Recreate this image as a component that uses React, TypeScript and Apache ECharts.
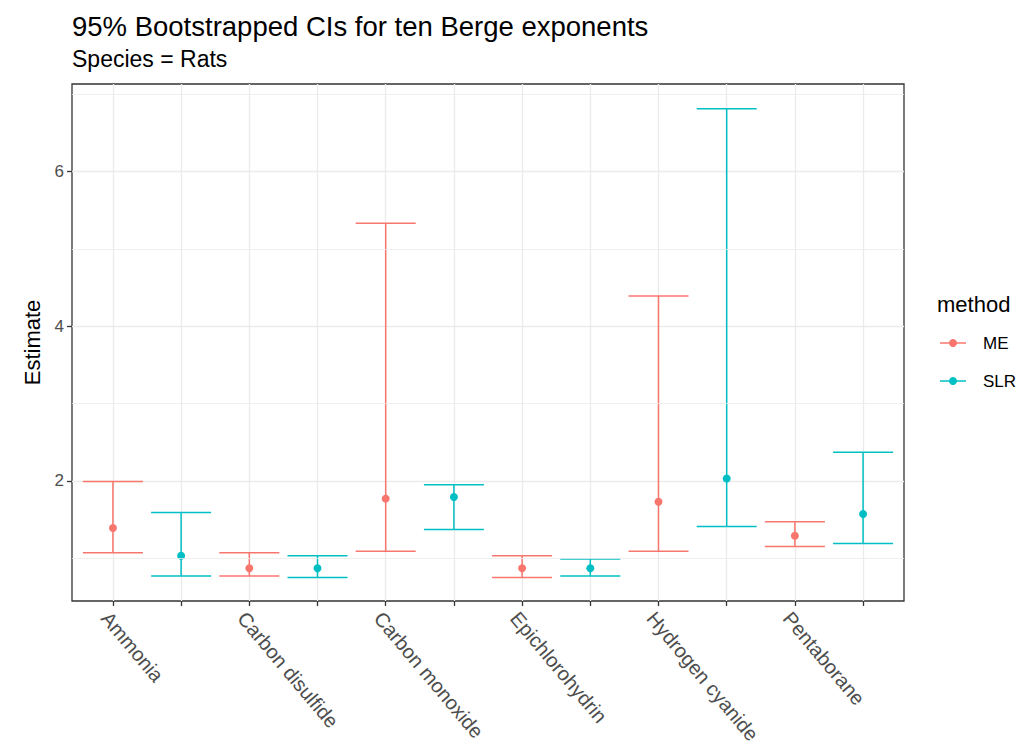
import { useEffect, useRef } from "react";
import * as echarts from "echarts";

// Compounds on the x axis; each has an ME slot and an SLR slot.
const compounds = [
  "Ammonia",
  "Carbon disulfide",
  "Carbon monoxide",
  "Epichlorohydrin",
  "Hydrogen cyanide",
  "Pentaborane",
];
const methods = ["ME", "SLR"];
const methodColors = ["#F8766D", "#00BFC4"];

// Bootstrapped estimates and 95% interval bounds per compound.
const meEstimate = [1.39, 0.87, 1.77, 0.87, 1.73, 1.29];
const meLower = [1.07, 0.77, 1.09, 0.75, 1.09, 1.15];
const meUpper = [1.99, 1.07, 5.33, 1.03, 4.39, 1.47];
const slrEstimate = [1.03, 0.87, 1.79, 0.87, 2.03, 1.57];
const slrLower = [0.77, 0.75, 1.37, 0.77, 1.41, 1.19];
const slrUpper = [1.59, 1.03, 1.95, 0.99, 6.81, 2.37];

const yMajorTicks = [2, 4, 6];
const yMinorGrid = [1, 3, 5, 7];

const FONT = "'Liberation Sans', Arial, sans-serif";
const AXIS_TEXT = "#4D4D4D";
const GRID_LINE = "#EBEBEB";

export default function App() {
  const ref = useRef<HTMLDivElement>(null);

  useEffect(() => {
    if (!ref.current) return;
    const chart = echarts.init(ref.current, undefined, { renderer: "svg" });

    const estimates = [meEstimate, slrEstimate];
    const lowers = [meLower, slrLower];
    const uppers = [meUpper, slrUpper];
    const slotTicks = compounds.flatMap((_, i) => [2 * i, 2 * i + 1]);
    const labelTicks = compounds.map((_, i) => 2 * i);

    const barSeries = methods.map((m, k) => ({
      name: m,
      type: "custom",
      z: 3,
      data: compounds.map((_, i) => [2 * i + k, lowers[k][i], uppers[k][i]]),
      encode: { x: 0, y: [1, 2] },
      renderItem: (_params: any, api: any) => {
        const x = api.value(0);
        const lo = api.coord([x, api.value(1)]);
        const hi = api.coord([x, api.value(2)]);
        const half = api.size([0.88, 0])[0] / 2;
        const style = { stroke: methodColors[k], lineWidth: 1.5, fill: "none" };
        return {
          type: "group",
          children: [
            { type: "line", shape: { x1: lo[0], y1: lo[1], x2: hi[0], y2: hi[1] }, style },
            { type: "line", shape: { x1: lo[0] - half, y1: lo[1], x2: lo[0] + half, y2: lo[1] }, style },
            { type: "line", shape: { x1: hi[0] - half, y1: hi[1], x2: hi[0] + half, y2: hi[1] }, style },
          ],
        };
      },
    }));

    const pointSeries = methods.map((m, k) => ({
      name: m,
      type: "scatter",
      z: 4,
      symbol: "circle",
      symbolSize: 8,
      itemStyle: { color: methodColors[k], opacity: 1 },
      data: compounds.map((_, i) => [2 * i + k, estimates[k][i]]),
    }));

    const minorGrid = {
      type: "line",
      z: 1,
      data: [],
      silent: true,
      markLine: {
        silent: true,
        symbol: "none",
        label: { show: false },
        lineStyle: { color: GRID_LINE, width: 0.8, type: "solid" },
        data: yMinorGrid.map((v) => ({ yAxis: v })),
      },
    };

    // Legend drawn beside the panel: key line with a dot, then label.
    const legendTop = 343;
    const legendStep = 38;
    const legendGraphics: any[] = [
      {
        type: "text",
        left: 937,
        top: 293,
        style: { text: "method", font: `22px ${FONT}`, fill: "#000" },
      },
    ];
    methods.forEach((m, k) => {
      const y = legendTop + k * legendStep;
      legendGraphics.push(
        { type: "line", shape: { x1: 940, y1: y, x2: 966, y2: y }, style: { stroke: methodColors[k], lineWidth: 1.5 } },
        { type: "circle", shape: { cx: 953, cy: y, r: 4 }, style: { fill: methodColors[k] } },
        {
          type: "text",
          x: 983,
          y,
          style: { text: m, font: `17px ${FONT}`, fill: "#000", textVerticalAlign: "middle" },
        }
      );
    });

    chart.setOption({
      animation: false,
      backgroundColor: "#fff",
      title: {
        left: 72,
        top: 12,
        padding: 0,
        itemGap: 7,
        text: "95% Bootstrapped CIs for ten Berge exponents",
        subtext: "Species = Rats",
        textStyle: { fontFamily: FONT, fontSize: 27.5, fontWeight: "normal", color: "#000" },
        subtextStyle: { fontFamily: FONT, fontSize: 23, color: "#000" },
      },
      grid: {
        left: 72,
        right: 117,
        top: 84,
        bottom: 146,
        show: true,
        borderColor: "#333",
        borderWidth: 1.3,
        backgroundColor: "transparent",
      },
      xAxis: {
        type: "value",
        min: -0.6,
        max: 11.6,
        axisLine: { show: false, onZero: false },
        axisTick: { show: true, length: 5, lineStyle: { color: "#333", width: 1.3 }, customValues: slotTicks },
        splitLine: { show: true, lineStyle: { color: GRID_LINE, width: 1.3 } },
        axisLabel: {
          customValues: labelTicks,
          rotate: -50,
          margin: 7,
          align: "left",
          verticalAlign: "top",
          fontFamily: FONT,
          fontSize: 20,
          color: AXIS_TEXT,
          formatter: (v: number) => compounds[Math.round(v / 2)] ?? "",
        },
      },
      yAxis: {
        type: "value",
        min: 0.446,
        max: 7.13,
        name: "Estimate",
        nameLocation: "middle",
        nameGap: 29,
        nameRotate: 90,
        nameTextStyle: { fontFamily: FONT, fontSize: 22, color: "#000" },
        axisLine: { show: false, onZero: false },
        axisTick: { show: true, length: 5, lineStyle: { color: "#333", width: 1.3 }, customValues: yMajorTicks },
        splitLine: { show: true, lineStyle: { color: GRID_LINE, width: 1.3 } },
        axisLabel: {
          customValues: yMajorTicks,
          margin: 8,
          fontFamily: FONT,
          fontSize: 17,
          color: AXIS_TEXT,
        },
      },
      graphic: legendGraphics,
      series: [minorGrid, ...barSeries, ...pointSeries],
    });

    return () => chart.dispose();
  }, []);

  return (
    <div
      ref={ref}
      style={{ position: "fixed", left: 0, top: 0, width: 1021, height: 747, background: "#fff" }}
    />
  );
}
